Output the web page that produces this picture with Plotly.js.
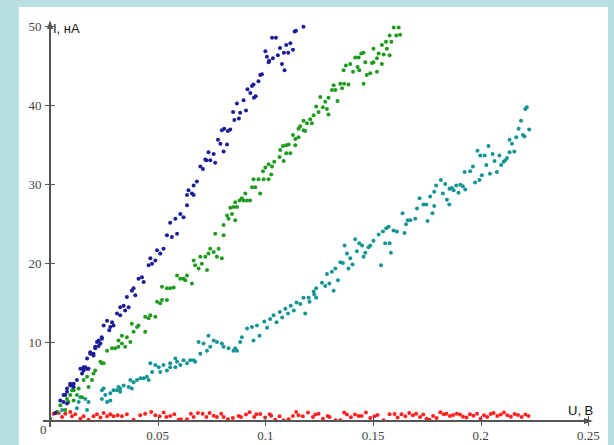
<!DOCTYPE html>
<html>
<head>
<meta charset="utf-8">
<script src="https://cdn.plot.ly/plotly-3.0.1.min.js"></script>
<style>
html,body{margin:0;padding:0;background:#b8e0e3;width:614px;height:445px;overflow:hidden;}
#chart{position:absolute;left:19px;top:7px;width:589px;height:438px;background:#fff;}
#axes{position:absolute;left:0;top:0;width:614px;height:445px;pointer-events:none;z-index:5;}
#axes div{position:absolute;background:#555555;}
#axes div.tri{background:transparent;width:0;height:0;}
#err{position:absolute;left:200px;top:60px;width:380px;font:10px sans-serif;color:#c00;z-index:9;}
</style>
</head>
<body>
<div id="chart"></div>
<div id="axes"></div>
<div id="err"></div>
<script>
window.onerror = function (msg, src, line) { document.getElementById('err').textContent += ' ERR: ' + msg + ' @' + line; };
// ---- data ----
const blueX = [0.0025,0.0048,0.0063,0.0063,0.0071,0.0079,0.0079,0.0079,0.0094,0.0094,0.0102,0.011,0.011,0.0125,0.0141,0.0149,0.0156,0.0156,0.0164,0.0172,0.0172,0.0179,0.0187,0.0187,0.0202,0.0202,0.021,0.021,0.0218,0.0226,0.0226,0.0234,0.0241,0.024,0.0249,0.0265,0.0275,0.028,0.0288,0.0295,0.0311,0.0326,0.0326,0.0342,0.0349,0.0357,0.0365,0.038,0.0388,0.0396,0.0411,0.0427,0.0435,0.0458,0.0466,0.0474,0.0489,0.0497,0.0512,0.0527,0.0543,0.0558,0.0566,0.0582,0.059,0.0605,0.062,0.0636,0.0636,0.0643,0.0659,0.0667,0.0667,0.0682,0.0698,0.071,0.0721,0.0726,0.0736,0.0744,0.076,0.0767,0.078,0.0791,0.0798,0.0806,0.0809,0.0822,0.0826,0.0837,0.085,0.0856,0.0868,0.0877,0.0883,0.0899,0.091,0.0917,0.093,0.0938,0.0945,0.0947,0.0955,0.0968,0.0976,0.0984,0.1,0.1007,0.1015,0.1018,0.1031,0.1035,0.1049,0.1058,0.1068,0.1077,0.1086,0.1089,0.1097,0.1106,0.1116,0.1128,0.1136,0.1142,0.1177];
const blueY = [1.0,2.6,2.4,3.3,3.3,2.2,3.7,4.1,4.5,4.7,4.5,4.7,4.3,5.2,6.6,6.0,6.4,6.8,6.8,6.6,7.9,6.6,8.7,8.5,8.5,8.3,9.4,9.2,10.0,9.5,10.2,9.8,10.4,10.6,12.1,12.7,11.5,11.9,12.5,12.1,13.6,13.4,14.4,14.6,14.0,15.7,14.4,16.5,16.8,15.9,18.0,18.2,17.6,19.7,20.6,19.9,20.3,21.6,21.2,21.8,23.5,25.1,23.3,25.6,23.7,26.2,25.8,27.3,28.6,29.2,28.8,28.6,29.8,30.3,32.2,31.9,33.1,33.0,34.0,33.0,33.8,32.7,35.6,35.1,36.8,34.1,37.0,35.0,36.7,36.9,39.1,38.1,40.2,38.3,39.0,40.6,39.3,42.0,41.5,42.4,42.6,40.9,41.1,43.0,43.8,43.9,46.8,46.1,45.4,45.6,48.5,45.9,48.5,46.3,47.2,45.2,46.6,44.4,47.6,46.6,47.8,47.0,49.3,49.4,49.9];

const greenX = [0.0001,0.0033,0.0048,0.0071,0.0079,0.0086,0.0094,0.0102,0.011,0.011,0.0125,0.0133,0.0149,0.0156,0.0172,0.0179,0.0195,0.0202,0.021,0.0234,0.0241,0.0249,0.0265,0.0288,0.0303,0.0318,0.0318,0.0334,0.0334,0.0349,0.0357,0.0373,0.038,0.0388,0.0404,0.0411,0.0442,0.0442,0.0458,0.0466,0.0489,0.0497,0.0512,0.052,0.052,0.0543,0.0543,0.0558,0.0574,0.059,0.0605,0.062,0.0628,0.0636,0.0659,0.0667,0.0674,0.069,0.0698,0.0705,0.0721,0.0729,0.0736,0.0744,0.076,0.0767,0.0775,0.0783,0.0798,0.0806,0.0806,0.0822,0.0829,0.0837,0.0845,0.0852,0.086,0.086,0.0868,0.088,0.0891,0.0899,0.0907,0.0915,0.0929,0.0938,0.0945,0.0953,0.0968,0.0976,0.0989,0.0992,0.1,0.1015,0.1015,0.1027,0.1031,0.1041,0.1066,0.1069,0.1082,0.1085,0.1097,0.1097,0.1108,0.1116,0.1128,0.1139,0.1139,0.1154,0.1154,0.1162,0.1177,0.1177,0.1185,0.1193,0.1208,0.1216,0.1224,0.1236,0.1247,0.1255,0.1267,0.1278,0.1286,0.1293,0.1293,0.1309,0.1317,0.1325,0.1335,0.1348,0.1356,0.1363,0.1366,0.1374,0.1386,0.1394,0.1407,0.1417,0.1428,0.1433,0.1436,0.1445,0.1456,0.1456,0.1464,0.1471,0.1487,0.1495,0.1502,0.1502,0.1518,0.1518,0.1526,0.1541,0.1541,0.1549,0.156,0.1564,0.1577,0.1577,0.1585,0.1596,0.1608,0.1619,0.1626];
const greenY = [0.3,1.1,2.0,1.4,2.8,2.4,3.3,3.9,3.9,2.6,3.3,4.1,3.0,5.2,5.6,4.3,5.2,6.0,6.4,7.5,7.3,7.3,8.9,9.2,9.2,10.2,9.4,10.8,9.8,9.4,10.6,10.0,12.3,11.3,11.9,12.1,13.2,11.3,13.0,13.4,13.2,15.1,14.9,15.3,17.0,15.3,16.8,16.8,16.9,18.4,18.0,18.0,17.8,18.4,17.4,20.3,19.7,19.3,20.8,19.9,20.8,19.1,21.2,21.8,21.4,23.7,20.8,21.8,20.6,24.8,23.5,26.0,25.6,27.0,26.2,27.1,27.7,25.4,27.1,27.9,28.2,27.9,28.8,27.9,27.9,29.6,30.6,29.6,30.6,28.8,31.6,30.6,32.1,32.5,30.6,31.2,32.2,32.8,33.4,34.3,34.8,32.9,34.9,33.9,35.0,33.9,36.2,35.7,34.9,37.0,35.9,37.3,38.0,36.8,36.7,37.7,38.2,37.7,38.7,39.8,39.1,41.0,39.7,40.4,39.5,40.9,38.8,41.9,42.5,41.9,40.5,42.7,42.1,44.4,42.7,45.0,42.6,45.2,44.2,46.0,44.8,46.0,44.4,46.5,46.6,42.7,45.4,43.8,44.0,45.3,47.1,45.4,45.9,44.2,46.5,47.6,45.2,46.4,48.0,47.1,48.8,46.3,48.0,49.8,48.8,49.8,48.9];

const tealX = [0.0056,0.0125,0.0133,0.0141,0.0164,0.0172,0.0179,0.0241,0.0241,0.0249,0.0257,0.0265,0.028,0.028,0.0295,0.0311,0.0318,0.0326,0.0326,0.0342,0.0365,0.0373,0.038,0.0388,0.0404,0.042,0.0435,0.045,0.0458,0.0466,0.0474,0.0489,0.0505,0.0512,0.0527,0.0543,0.0558,0.0558,0.0582,0.0582,0.059,0.0605,0.062,0.0636,0.0651,0.0667,0.0674,0.069,0.0698,0.0713,0.0729,0.0736,0.0744,0.076,0.0775,0.0798,0.0806,0.0829,0.0852,0.086,0.0868,0.0883,0.0891,0.0915,0.0938,0.0945,0.0961,0.0973,0.0995,0.1008,0.1022,0.1038,0.1052,0.1067,0.1078,0.1093,0.1105,0.1118,0.1132,0.1145,0.1162,0.1177,0.1185,0.1201,0.1205,0.1224,0.1227,0.1236,0.1236,0.1263,0.1278,0.1286,0.1297,0.1309,0.1317,0.1325,0.1337,0.1348,0.136,0.1368,0.1379,0.1386,0.1394,0.1405,0.1417,0.1425,0.1436,0.1449,0.1456,0.1464,0.1479,0.1487,0.1502,0.1526,0.1537,0.1546,0.1556,0.1561,0.1572,0.1577,0.1583,0.1595,0.1611,0.1637,0.1646,0.1653,0.1661,0.1673,0.1696,0.1704,0.1716,0.1734,0.1747,0.1753,0.1765,0.1776,0.1784,0.1784,0.1793,0.1815,0.1824,0.1835,0.1843,0.1854,0.1855,0.1866,0.1874,0.1886,0.1897,0.1905,0.1917,0.1925,0.1928,0.1951,0.1964,0.1974,0.1985,0.1994,0.1998,0.2005,0.2018,0.2026,0.2036,0.2043,0.2055,0.2064,0.2075,0.2087,0.2095,0.2106,0.2114,0.2122,0.2134,0.2134,0.2145,0.2156,0.2165,0.2176,0.2187,0.2196,0.2203,0.2207,0.2214,0.2225];
const tealY = [1.4,1.6,2.4,3.0,2.8,1.4,2.4,2.8,3.9,4.1,3.3,2.4,2.6,3.5,3.9,3.9,4.3,4.1,3.7,4.5,4.3,5.2,4.1,4.9,5.2,5.4,5.4,5.6,5.2,7.3,6.2,7.1,6.8,6.2,7.1,6.4,7.3,6.8,7.9,6.8,7.5,7.1,7.7,7.3,7.7,7.7,7.5,10.0,8.5,9.8,8.9,10.8,9.4,10.2,10.0,9.8,9.4,9.2,8.9,9.2,8.9,10.0,10.6,11.7,11.9,10.2,12.1,10.8,12.6,11.8,12.9,13.4,12.5,13.8,13.1,14.2,13.6,14.6,14.0,15.0,14.8,15.6,13.6,15.6,15.1,16.4,16.0,16.8,15.6,17.5,17.1,18.6,17.4,18.9,16.5,19.3,17.8,20.1,20.0,22.2,21.2,19.3,20.6,19.8,23.0,21.5,22.5,22.2,20.8,21.3,22.0,22.2,22.8,23.6,19.7,24.0,22.5,24.4,24.6,22.5,21.3,24.1,24.0,26.3,23.8,24.9,25.4,25.4,25.6,26.9,28.2,27.4,27.4,25.3,28.4,26.3,29.0,27.2,29.8,30.5,28.8,30.0,28.0,27.4,29.4,29.5,29.2,29.8,28.9,29.9,29.7,31.5,29.3,31.6,32.2,30.2,34.2,30.5,33.6,31.1,33.6,32.4,34.8,31.3,33.8,32.9,31.5,33.6,32.4,32.8,33.0,33.3,35.6,34.0,35.1,34.1,35.9,37.0,38.0,36.2,36.0,39.5,39.7,36.9];

const redX = [0.0017,0.0033,0.004,0.0056,0.0071,0.0094,0.0102,0.0117,0.0141,0.0156,0.0179,0.0202,0.0218,0.0234,0.0249,0.0265,0.028,0.0295,0.0314,0.0334,0.0357,0.0388,0.0419,0.0442,0.047,0.0489,0.0509,0.0528,0.054,0.0558,0.0577,0.0597,0.0608,0.0636,0.0654,0.0667,0.0687,0.0709,0.0726,0.0741,0.076,0.0775,0.0795,0.0806,0.0826,0.0849,0.0876,0.0887,0.091,0.0927,0.0948,0.0958,0.0976,0.0999,0.102,0.1027,0.1046,0.1066,0.1085,0.1108,0.1128,0.1143,0.1154,0.1174,0.1198,0.1221,0.1232,0.1247,0.1267,0.1289,0.1298,0.1326,0.1348,0.1366,0.1379,0.1397,0.1416,0.1433,0.1447,0.1467,0.1487,0.1506,0.1521,0.1549,0.1577,0.16,0.1614,0.1632,0.165,0.1668,0.1685,0.17,0.1718,0.1733,0.1748,0.1762,0.1779,0.1795,0.1812,0.1828,0.1841,0.1857,0.1872,0.1889,0.1904,0.1918,0.1934,0.195,0.1966,0.1983,0.1999,0.2015,0.203,0.2046,0.206,0.2077,0.2093,0.2108,0.2124,0.214,0.2157,0.2173,0.219,0.2207,0.2222];
const redY = [0.93,1.14,1.0,0.51,0.93,1.14,0.59,0.85,0.3,0.59,0.17,0.59,0.85,0.43,1.01,0.59,0.85,0.59,0.72,0.59,0.85,0.17,0.72,0.93,1.14,0.72,0.59,1.06,0.51,0.64,0.85,0.17,0.21,0.21,0.93,0.51,1.02,0.93,0.51,1.02,0.68,0.51,0.93,0.51,0.21,0.38,0.64,0.51,0.81,1.1,0.51,0.85,0.89,0.43,0.85,0.68,0.17,0.59,0.08,0.21,0.64,1.14,0.72,0.59,1.06,0.51,0.81,0.93,0.3,0.64,0.51,0.08,0.08,1.06,0.81,0.47,0.81,0.64,0.64,1.06,0.38,0.59,0.76,0.08,0.85,0.89,0.43,0.85,0.59,1.02,0.72,0.93,0.51,0.81,0.3,0.17,0.64,0.38,1.1,0.85,0.93,0.64,0.76,0.93,0.81,0.55,0.43,0.85,0.68,0.93,0.3,0.72,0.51,0.89,1.02,0.64,0.81,1.06,0.72,0.55,0.89,0.76,0.51,0.81,0.64];

const xTickVals = [0.05, 0.1, 0.15, 0.2, 0.25];
const xTickText = ['0.05', '0.1', '0.15', '0.2', '0.25'];
const yTickVals = [10, 20, 30, 40, 50];
const yTickText = ['10', '20', '30', '40', '50'];
const xTitle = 'U, В';
const yTitle = 'I, нА';
const originLabel = '0';

// ---- styling ----
const XR = [0, 0.2512];
const YR = [0, 50.5];
const CHART_LEFT = 19, CHART_TOP = 7;
const MARGIN = {l: 31, r: 17, t: 15, b: 24};
const W = 589 - MARGIN.l - MARGIN.r, H = 438 - MARGIN.t - MARGIN.b;
const axisCol = '#555555';
const px = p => p / W, py = p => p / H;

// ---- axis lines, crossing ticks and arrowheads (same linear scale as the chart axes) ----
function drawAxes(xa, ya) {
  const ok = xa && ya && typeof xa.l2p === 'function' && typeof xa._offset === 'number' && typeof ya._offset === 'number';
  const xPix = v => CHART_LEFT + (ok ? xa._offset + xa.l2p(v) : MARGIN.l + (v - XR[0]) / (XR[1] - XR[0]) * W);
  const yPix = v => CHART_TOP + (ok ? ya._offset + ya.l2p(v) : MARGIN.t + (YR[1] - v) / (YR[1] - YR[0]) * H);
  const box = document.getElementById('axes');
  box.innerHTML = '';
  const add = (css, cls) => { const d = document.createElement('div'); if (cls) d.className = cls; for (const k in css) d.style[k] = css[k]; box.appendChild(d); };
  const x0 = xPix(0), y0 = yPix(0), xEnd = xPix(XR[1]), yTop = yPix(YR[1]);
  add({left: (x0 - 7) + 'px', top: (y0 - 1) + 'px', width: (xEnd - x0 + 5) + 'px', height: '2px'});
  add({left: (x0 - 1) + 'px', top: (yTop + 2) + 'px', width: '2px', height: (y0 - yTop + 4) + 'px'});
  add({left: (x0 - 3.5) + 'px', top: (yTop - 2) + 'px', borderLeft: '3.5px solid transparent', borderRight: '3.5px solid transparent', borderBottom: '9px solid ' + axisCol}, 'tri');
  add({left: (xEnd - 7) + 'px', top: (y0 - 3.5) + 'px', borderTop: '3.5px solid transparent', borderBottom: '3.5px solid transparent', borderLeft: '9px solid ' + axisCol}, 'tri');
  xTickVals.forEach(v => add({left: (Math.round(xPix(v)) - 0.5) + 'px', top: (y0 - 5) + 'px', width: '1.5px', height: '10px'}));
  yTickVals.forEach(v => add({left: (x0 - 5) + 'px', top: (Math.round(yPix(v)) - 0.5) + 'px', width: '10px', height: '1.5px'}));
}
try { drawAxes(null, null); } catch (e) { document.getElementById('err').textContent += ' AXERR: ' + e.message; }

const tickFont = {family: 'Liberation Serif', size: 13, color: '#444444'};
const titleFont = {family: 'Liberation Sans', size: 13, color: '#111111'};

function series(x, y, color) {
  return {x: x, y: y, type: 'scatter', mode: 'markers',
          marker: {size: 4, color: color}, hoverinfo: 'skip', showlegend: false};
}

const traces = [
  series(redX, redY, '#ff2020'),
  series(tealX, tealY, '#149494'),
  series(greenX, greenY, '#1e9b1e'),
  series(blueX, blueY, '#1c1c98')
];

const layout = {
  width: 589, height: 438,
  margin: MARGIN,
  paper_bgcolor: '#ffffff', plot_bgcolor: '#ffffff',
  showlegend: false,
  xaxis: {range: XR, showgrid: false, zeroline: false, showline: false,
    tickmode: 'array', tickvals: xTickVals, ticktext: xTickText, ticks: 'outside', ticklen: 2,
    tickcolor: 'rgba(0,0,0,0)', tickfont: Object.assign({}, tickFont)},
  yaxis: {range: YR, showgrid: false, zeroline: false, showline: false,
    tickmode: 'array', tickvals: yTickVals, ticktext: yTickText, ticks: 'outside', ticklen: 5,
    tickcolor: 'rgba(0,0,0,0)', tickfont: Object.assign({}, tickFont)},
  annotations: [
    {xref: 'paper', yref: 'paper', x: 0.002, y: 0.984, text: yTitle, showarrow: false, xanchor: 'left', yanchor: 'middle', font: Object.assign({}, titleFont)},
    {xref: 'paper', yref: 'paper', x: 0.954, y: 0.026, text: xTitle, showarrow: false, xanchor: 'left', yanchor: 'middle', font: Object.assign({}, titleFont)},
    {xref: 'paper', yref: 'paper', x: px(-7), y: py(-8), text: originLabel, showarrow: false, xanchor: 'center', yanchor: 'middle', font: Object.assign({}, tickFont)}
  ]
};

const gd = document.getElementById('chart');
try {
  const p = Plotly.newPlot(gd, traces, layout, {staticPlot: true, displayModeBar: false});
  if (p && p.then) p.catch(e => { document.getElementById('err').textContent += ' PERR: ' + (e && e.message); });
} catch (e) {
  document.getElementById('err').textContent += ' NPERR: ' + e.message;
}
</script>
</body>
</html>
